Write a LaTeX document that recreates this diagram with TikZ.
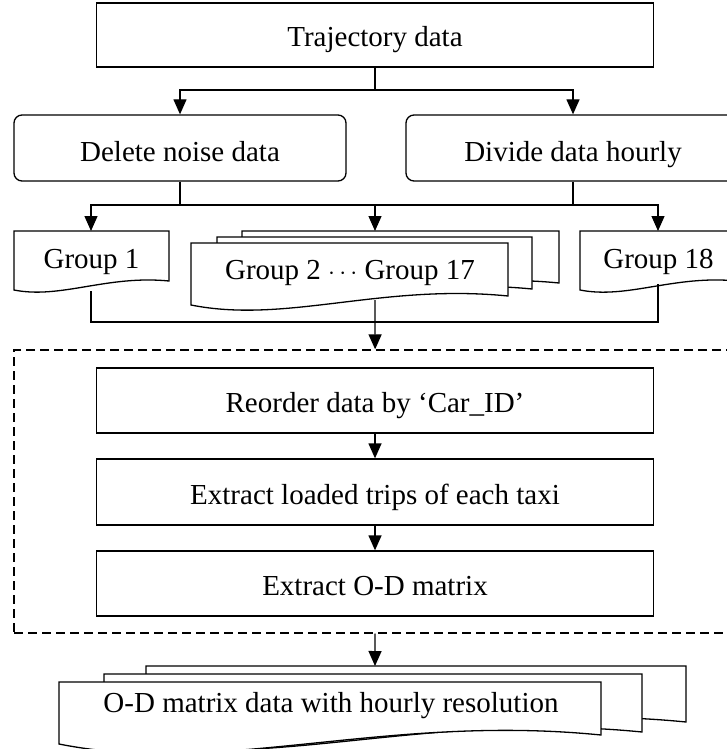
\documentclass[tikz,border=0pt]{standalone}
\usepackage{fontspec}
\setmainfont{Liberation Serif}
\usetikzlibrary{arrows.meta}

\begin{document}
\begin{tikzpicture}[x=1pt,y=-1pt,line width=1.3pt]
\tikzstyle{box}= [draw, rectangle, inner sep=0pt, fill=white, minimum width=557pt, minimum height=65pt, text height=24pt, text depth=0pt, font=\fontsize{29}{33}\selectfont]
\tikzstyle{rbox}= [box, rounded corners=8pt, minimum height=66pt, text height=26pt]
\tikzstyle{txt}= [inner sep=0pt, text height=24pt, text depth=0pt, font=\fontsize{29}{33}\selectfont]
\tikzstyle{arr}= [-{Triangle[length=15pt,width=13pt]}]
\def\doc#1#2#3#4{\filldraw[fill=white] (#1,#3) -- (#2,#3) -- (#2,#4-9) .. controls ({#1+0.6*(#2-#1)},{#4-9-0.04*(#2-#1)}) and ({#1+0.3*(#2-#1)},{#4+0.06*(#2-#1)}) .. (#1,#4) -- cycle;}
\useasboundingbox (0,0) rectangle (727,749);
\clip (0,0) rectangle (727,749);
%1
\node[box, minimum height=64pt] (traj) at (375,35) {Trajectory data};
\node[rbox, minimum width=332pt] (noise) at (180,148) {Delete noise data};
\node[rbox, minimum width=334pt] (hourly) at (573,148) {Divide data hourly};
\coordinate (j1) at (375,90);
\draw (traj) -- (j1);
\draw[arr] (j1) -| (noise);
\draw[arr] (j1) -| (hourly);
%2
\doc{14}{169}{231}{290}
\doc{242}{559}{231}{292}
\doc{217}{532}{237}{298}
\doc{191}{508}{243}{305}
\doc{580}{737}{231}{290}
\node[txt] (g1) at (91.5,256) {Group 1};
\node[txt] (g2) at (350,267) {Group 2 $\cdots$ Group 17};
\node[txt] (g18) at (658.5,256) {Group 18};
\coordinate (g1t) at (91,231);
\coordinate (g2t) at (375,231);
\coordinate (g18t) at (658,231);
\coordinate (g1b) at (91,291);
\coordinate (g2b) at (375,300);
\coordinate (g18b) at (658,284);
\coordinate (j2) at (375,205);
\draw (noise) |- (j2);
\draw (hourly) |- (j2);
\draw[arr] (j2) -| (g1t);
\draw[arr] (j2) -- (g2t);
\draw[arr] (j2) -| (g18t);
\coordinate (j3) at (375,322);
\draw (g1b) |- (j3);
\draw (g18b) |- (j3);
%3
\node[draw, dash pattern=on 9pt off 5pt, minimum width=723pt, minimum height=283pt] (pipe) at (375.5,491.5) {};
\draw[arr] (g2b) -- (pipe);
\node[box] (reorder) at (375,400.5) {Reorder data by ‘Car\_ID’};
\node[box, minimum height=66pt] (loaded) at (375,492) {Extract loaded trips of each taxi};
\node[box] (odm) at (375,583.5) {Extract O-D matrix};
\draw[arr] (reorder) -- (loaded);
\draw[arr] (loaded) -- (odm);
%4
\doc{146}{686}{666}{731}
\doc{104}{642}{674}{741}
\doc{59}{601}{682}{744}
\node[txt] (out) at (331,700) {O-D matrix data with hourly resolution};
\coordinate (outt) at (375,666);
\draw[arr] (pipe) -- (outt);
\end{tikzpicture}
\end{document}
